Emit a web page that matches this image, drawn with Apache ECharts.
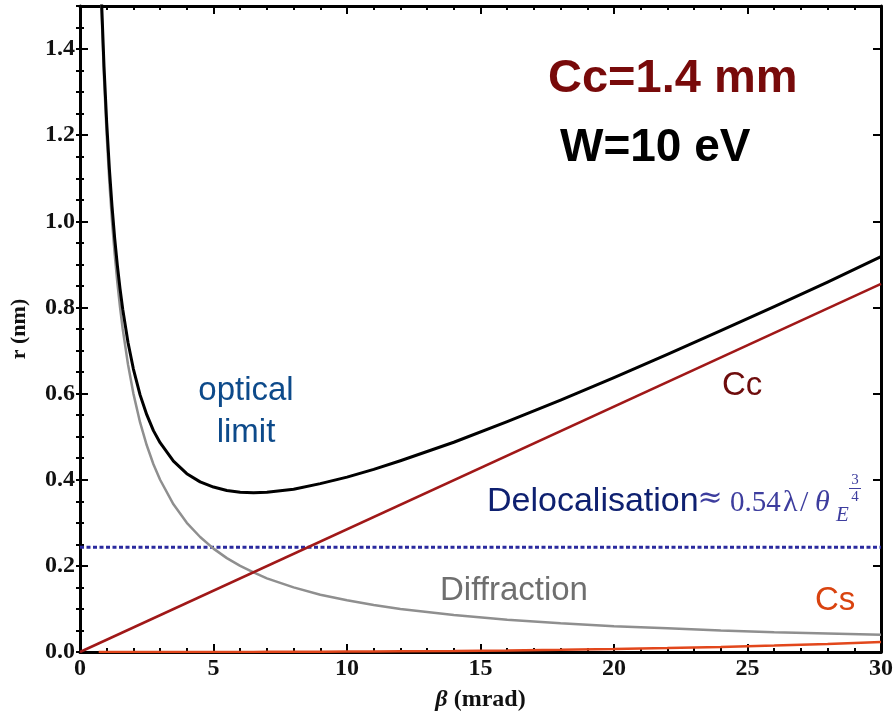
<!DOCTYPE html>
<html><head><meta charset="utf-8">
<script src="https://cdn.jsdelivr.net/npm/echarts@6/dist/echarts.min.js"></script>
<style>html,body{margin:0;padding:0;background:#fff}#c{width:896px;height:717px}</style>
</head><body><div id="c"></div>
<script>
// β (mrad) sample positions
const beta = [0.7, 0.8, 0.9, 1, 1.1, 1.2, 1.3, 1.4, 1.5, 1.6, 1.8, 2, 2.25, 2.5, 2.75, 3, 3.5, 4, 4.5, 5, 5.5, 6, 6.5, 7, 8, 9, 10, 11, 12, 14, 16, 18, 20, 22, 24, 26, 28, 30];
// r (nm)
const diffraction = [1.714, 1.5, 1.333, 1.2, 1.091, 1.0, 0.923, 0.857, 0.8, 0.75, 0.667, 0.6, 0.533, 0.48, 0.436, 0.4, 0.343, 0.3, 0.267, 0.24, 0.218, 0.2, 0.185, 0.171, 0.15, 0.133, 0.12, 0.109, 0.1, 0.086, 0.075, 0.067, 0.06, 0.055, 0.05, 0.046, 0.043, 0.04];
const csValues = [0, 0, 0, 0, 0, 0, 0, 0, 0, 0, 0, 0, 0, 0, 0, 0, 0, 0.0001, 0.0001, 0.0001, 0.0001, 0.0002, 0.0002, 0.0003, 0.0004, 0.0006, 0.0009, 0.0011, 0.0015, 0.0023, 0.0035, 0.005, 0.0068, 0.009, 0.0118, 0.0149, 0.0187, 0.023];
const totalValues = [1.734, 1.523, 1.359, 1.229, 1.122, 1.034, 0.960, 0.897, 0.843, 0.796, 0.718, 0.657, 0.597, 0.551, 0.514, 0.486, 0.443, 0.414, 0.395, 0.383, 0.375, 0.371, 0.370, 0.371, 0.378, 0.391, 0.406, 0.424, 0.444, 0.487, 0.535, 0.585, 0.637, 0.691, 0.746, 0.802, 0.859, 0.918];
const ccLineBeta = [0, 30];
const ccLineValues = [0, 0.855];
const delocalisation = 0.243;
const xRange = [0, 30];

const pairs = (xs, ys) => xs.map((x, i) => [x, ys[i]]);

const chart = echarts.init(document.getElementById('c'), null, {renderer: 'canvas'});
const tickFont = {fontFamily: 'Liberation Serif', fontWeight: 'bold', fontSize: 24, color: '#111'};
const frameLine = {show: true, onZero: false, lineStyle: {color: '#000', width: 3}};
const majorTick = {show: true, inside: true, length: 8, lineStyle: {color: '#000', width: 2}};
const minorTickY = {show: true, inside: true, length: 4, lineStyle: {color: '#000', width: 2}};

const xBase = {type: 'value', min: 0, max: 30, interval: 5, splitLine: {show: false},
  minorTick: {show: true, splitNumber: 5, length: 4, lineStyle: {color: '#000', width: 2}},
  axisLine: frameLine, axisTick: majorTick};
const yMajor = {type: 'value', min: 0, max: 1.5, interval: 0.2, splitLine: {show: false}, axisLine: frameLine, axisTick: majorTick};
const yMinor = {type: 'value', min: 0, max: 1.5, interval: 0.05, splitLine: {show: false}, axisLine: {show: false}, axisTick: minorTickY, axisLabel: {show: false}};

const mathColor = '#3d3d9e';
const mathText = (x, y, text, font, align) => ({type: 'text', x: x, y: y,
  style: {text: text, font: font, fill: mathColor, verticalAlign: 'middle', align: align || 'left'}});

chart.setOption({
  animation: false,
  backgroundColor: '#fff',
  grid: {left: 77, right: 11, top: 6, bottom: 65, containLabel: false},
  xAxis: [
    Object.assign({}, xBase, {position: 'bottom',
      axisLabel: Object.assign({margin: 5}, tickFont),
      name: '{i|β} (mrad)', nameLocation: 'middle', nameGap: 36,
      nameTextStyle: {fontFamily: 'Liberation Serif', fontWeight: 'bold', fontSize: 24, color: '#111',
        rich: {i: {fontFamily: 'Liberation Serif', fontWeight: 'bold', fontStyle: 'italic', fontSize: 24, color: '#111'}}}}),
    Object.assign({}, xBase, {position: 'top', axisLabel: {show: false}})
  ],
  yAxis: [
    Object.assign({}, yMajor, {position: 'left',
      axisLabel: Object.assign({margin: 5, formatter: v => Math.abs(v - 1.5) < 1e-6 ? '' : v.toFixed(1)}, tickFont),
      name: 'r (nm)', nameLocation: 'middle', nameGap: 50, nameRotate: 90,
      nameTextStyle: {fontFamily: 'Liberation Serif', fontWeight: 'bold', fontSize: 22, color: '#111'}}),
    Object.assign({}, yMinor, {position: 'left'}),
    Object.assign({}, yMajor, {position: 'right', axisLabel: {show: false}}),
    Object.assign({}, yMinor, {position: 'right'})
  ],
  series: [
    {type: 'line', name: 'Delocalisation', data: xRange.map(x => [x, delocalisation]), symbol: 'none',
      lineStyle: {color: '#2a2a9e', width: 3, type: [4, 2.5]}, z: 2},
    {type: 'line', name: 'Diffraction', data: pairs(beta, diffraction), symbol: 'none',
      lineStyle: {color: '#8f8f8f', width: 2.5}, clip: true, z: 3},
    {type: 'line', name: 'Cc', data: pairs(ccLineBeta, ccLineValues), symbol: 'none',
      lineStyle: {color: '#a01818', width: 2.5}, z: 4},
    {type: 'line', name: 'Cs', data: pairs(beta, csValues), symbol: 'none',
      lineStyle: {color: '#e2471c', width: 2.5}, z: 4},
    {type: 'line', name: 'Total', data: pairs(beta, totalValues), symbol: 'none',
      lineStyle: {color: '#000', width: 3, join: 'round'}, clip: true, z: 5}
  ],
  graphic: {elements: [
    {type: 'text', x: 548, y: 79, style: {text: 'Cc=1.4 mm', font: 'bold 47px "Liberation Sans"', fill: '#780a0a', verticalAlign: 'middle', align: 'left'}},
    {type: 'text', x: 560, y: 148, style: {text: 'W=10 eV', font: 'bold 46px "Liberation Sans"', fill: '#000', verticalAlign: 'middle', align: 'left'}},
    {type: 'text', x: 246, y: 391, style: {text: 'optical', font: '33px "Liberation Sans"', fill: '#0d4a8a', verticalAlign: 'middle', align: 'center'}},
    {type: 'text', x: 246, y: 433, style: {text: 'limit', font: '33px "Liberation Sans"', fill: '#0d4a8a', verticalAlign: 'middle', align: 'center'}},
    {type: 'text', x: 722, y: 386, style: {text: 'Cc', font: '33px "Liberation Sans"', fill: '#6e0c0c', verticalAlign: 'middle', align: 'left'}},
    {type: 'text', x: 440, y: 591, style: {text: 'Diffraction', font: '33px "Liberation Sans"', fill: '#6f6f6f', verticalAlign: 'middle', align: 'left'}},
    {type: 'text', x: 815, y: 601, style: {text: 'Cs', font: '33px "Liberation Sans"', fill: '#d9430f', verticalAlign: 'middle', align: 'left'}},
    {type: 'text', x: 487, y: 502, style: {text: 'Delocalisation', font: '34px "Liberation Sans"', fill: '#0e2070', verticalAlign: 'middle', align: 'left'}},
    mathText(710, 499, '≈', '30px "DejaVu Serif"', 'center'),
    mathText(730, 503, '0.54', '29px "Liberation Serif"'),
    mathText(783, 503, 'λ', '30px "Liberation Serif"'),
    mathText(800, 503, '/', '30px "Liberation Serif"'),
    mathText(815, 503, 'θ', 'italic 30px "Liberation Serif"'),
    mathText(836, 515, 'E', 'italic 21px "Liberation Serif"'),
    mathText(855, 480, '3', '15px "Liberation Serif"', 'center'),
    {type: 'line', shape: {x1: 849, y1: 488.5, x2: 861, y2: 488.5}, style: {stroke: mathColor, lineWidth: 1}},
    mathText(855, 497, '4', '15px "Liberation Serif"', 'center')
  ]}
});
</script>
</body></html>
